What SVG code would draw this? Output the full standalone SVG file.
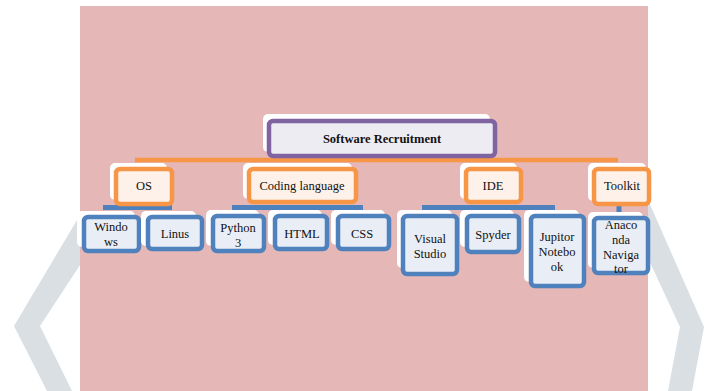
<svg xmlns="http://www.w3.org/2000/svg" width="715" height="391" viewBox="0 0 715 391">
<defs>
<style>
.sh{fill:#ffffff}
.root{fill:#EEECF3;stroke:#8064A2;stroke-width:4.5}
.cat{fill:#FDF1E9;stroke:#F79646;stroke-width:4.5}
.leaf{fill:#E9EEF6;stroke:#4F81BD;stroke-width:4.5}
text{font-family:"Liberation Serif","Times New Roman","DejaVu Serif",serif;font-size:12.5px;fill:#111;text-anchor:middle}
.b{font-weight:bold;font-size:12.5px}
.oc{stroke:#F79646;stroke-width:4.5;fill:none}
.bc{stroke:#4F81BD;stroke-width:5;fill:none}
</style>
</defs>
<rect width="715" height="391" fill="#ffffff"/>
<polygon points="80,215 14,326 47,391 72,391 40,326 80,265" fill="#D9DFE3"/>
<polygon points="648,200 704,327 692,391 668,391 680,327 648,258" fill="#D9DFE3"/>
<rect x="80" y="6" width="568" height="385" fill="#E5B7B7"/>
<g id="connectors">
<line class="oc" x1="135" y1="160" x2="618" y2="160"/>
<line class="bc" x1="103" y1="207.5" x2="172" y2="207.5"/>
<line class="bc" x1="232" y1="207.5" x2="363" y2="207.5"/>
<line class="bc" x1="422" y1="207.5" x2="555" y2="207.5"/>
<line class="bc" x1="619" y1="203" x2="619" y2="215"/>
</g>
<g id="root">
<rect class="sh" x="263" y="114" width="227" height="38" rx="5"/>
<rect class="root" x="269" y="121" width="226" height="35" rx="4"/>
<text class="b" x="382" y="143" font-family="Liberation Serif">Software Recruitment</text>
</g>
<g id="os">
<rect class="sh" x="110" y="163" width="57" height="37" rx="5"/>
<rect class="cat" x="116" y="169" width="56" height="35" rx="4"/>
<text x="144" y="190">OS</text>
</g>
<g id="coding">
<rect class="sh" x="243" y="163" width="109" height="36" rx="5"/>
<rect class="cat" x="249" y="169" width="107" height="33" rx="4"/>
<text x="302" y="190">Coding language</text>
</g>
<g id="ide">
<rect class="sh" x="460" y="163" width="57" height="36" rx="5"/>
<rect class="cat" x="466" y="169" width="55" height="33" rx="4"/>
<text x="493" y="190">IDE</text>
</g>
<g id="toolkit">
<rect class="sh" x="588" y="163" width="58" height="38" rx="5"/>
<rect class="cat" x="594" y="169" width="55" height="35" rx="4"/>
<text x="622" y="190">Toolkit</text>
</g>
<g id="windows">
<rect class="sh" x="77" y="211" width="58" height="36" rx="5"/>
<rect class="leaf" x="84" y="217" width="55" height="34" rx="4"/>
<text x="111" y="231">Windo</text>
<text x="111" y="246">ws</text>
</g>
<g id="linus">
<rect class="sh" x="141" y="211" width="55" height="35" rx="5"/>
<rect class="leaf" x="148" y="217" width="54" height="32" rx="4"/>
<text x="175" y="238">Linus</text>
</g>
<g id="python">
<rect class="sh" x="206" y="210" width="53" height="36" rx="5"/>
<rect class="leaf" x="213" y="216" width="51" height="35" rx="4"/>
<text x="238" y="232">Python</text>
<text x="238" y="247">3</text>
</g>
<g id="html">
<rect class="sh" x="268" y="210" width="54" height="35" rx="5"/>
<rect class="leaf" x="275" y="216" width="52" height="33" rx="4"/>
<text x="302" y="238">HTML</text>
</g>
<g id="css">
<rect class="sh" x="331" y="210" width="54" height="35" rx="5"/>
<rect class="leaf" x="338" y="216" width="51" height="33" rx="4"/>
<text x="362" y="238">CSS</text>
</g>
<g id="visual">
<rect class="sh" x="397" y="210" width="55" height="58" rx="5"/>
<rect class="leaf" x="403" y="216" width="54" height="58" rx="4"/>
<text x="430" y="243">Visual</text>
<text x="430" y="258">Studio</text>
</g>
<g id="spyder">
<rect class="sh" x="460" y="210" width="54" height="37" rx="5"/>
<rect class="leaf" x="467" y="216" width="52" height="36" rx="4"/>
<text x="493" y="239">Spyder</text>
</g>
<g id="jupitor">
<rect class="sh" x="524" y="210" width="55" height="72" rx="5"/>
<rect class="leaf" x="531" y="216" width="53" height="70" rx="4"/>
<text x="557" y="241">Jupitor</text>
<text x="557" y="256">Notebo</text>
<text x="557" y="271">ok</text>
</g>
<g id="anaconda">
<rect class="sh" x="588" y="212" width="55" height="56" rx="5"/>
<rect class="leaf" x="594" y="218" width="54" height="55" rx="4"/>
<text x="621" y="229">Anaco</text>
<text x="621" y="244">nda</text>
<text x="621" y="259">Naviga</text>
<text x="621" y="273">tor</text>
</g>
</svg>
